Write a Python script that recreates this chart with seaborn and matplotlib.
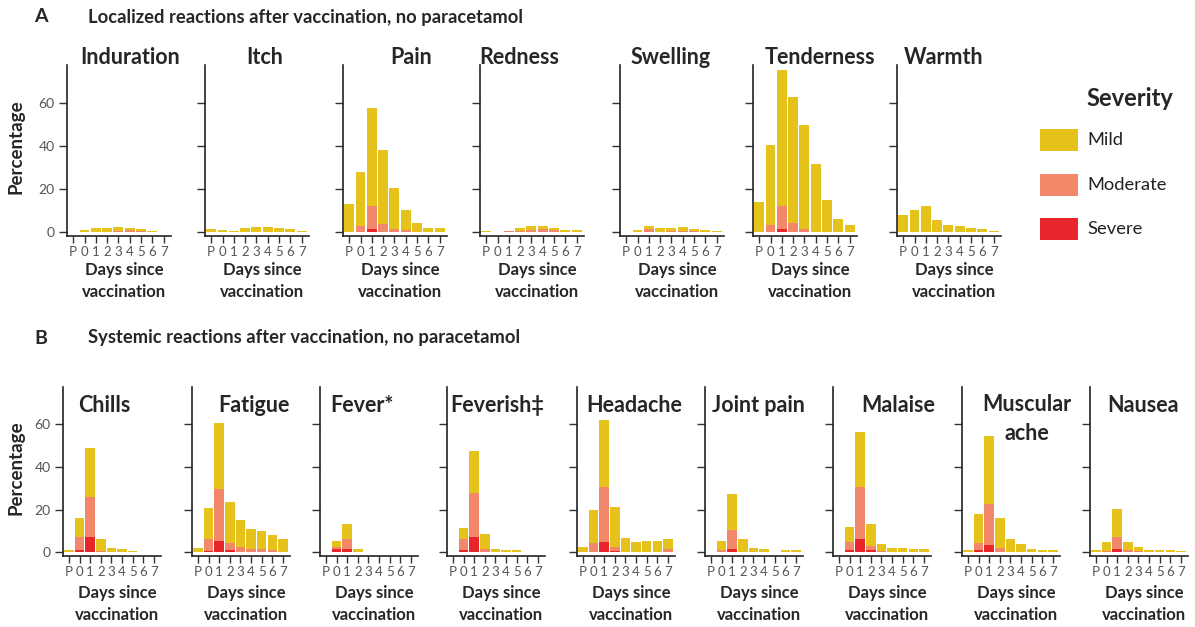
import matplotlib
matplotlib.use("Agg")
import matplotlib.pyplot as plt
from matplotlib.patches import Rectangle
import seaborn as sns

sns.set_style("ticks")
plt.rcParams["font.family"] = ["Lato", "DejaVu Sans"]

# ---------------- data ----------------
DAYS = ["P", "0", "1", "2", "3", "4", "5", "6", "7"]
SEVERITY = ["Mild", "Moderate", "Severe"]

# Each symptom: (any severity total, moderate-or-severe, severe) percentages per day
LOCAL_NAMES = ["Induration", "Itch", "Pain", "Redness", "Swelling", "Tenderness", "Warmth"]
INDURATION = ([0.2, 1.3, 1.8, 1.8, 2.4, 2.0, 1.5, 0.8, 0.2],
              [0, 0, 0.2, 0.2, 0.4, 0.9, 0.4, 0.1, 0],
              [0, 0, 0, 0, 0, 0, 0, 0, 0])
ITCH = ([1.7, 1.3, 0.6, 2.0, 2.5, 2.4, 2.0, 1.4, 0.8],
        [0, 0, 0, 0, 0.2, 0.2, 0.1, 0, 0],
        [0, 0, 0, 0, 0, 0, 0, 0, 0])
PAIN = ([12.9, 27.8, 57.5, 38.3, 20.6, 10.4, 4.5, 2.2, 2.2],
        [0.3, 2.9, 12.4, 4.0, 1.5, 1.0, 0.2, 0, 0],
        [0, 0.3, 1.5, 0.3, 0, 0, 0, 0, 0])
REDNESS = ([0.4, 0.1, 0.8, 2.0, 3.1, 3.1, 2.0, 1.2, 0.9],
           [0, 0, 0.8, 0.4, 1.0, 1.5, 1.0, 0.3, 0.2],
           [0, 0, 0, 0, 0, 0, 0, 0, 0])
SWELLING = ([0.1, 0.9, 2.9, 2.0, 2.0, 2.3, 1.7, 1.1, 0.6],
            [0, 0.2, 1.5, 0.3, 0.5, 0.7, 0.5, 0.1, 0],
            [0, 0, 0, 0, 0, 0, 0, 0, 0])
TENDERNESS = ([14.0, 40.5, 75.0, 62.8, 49.6, 31.6, 15.2, 6.2, 3.3],
              [0.2, 3.3, 12.0, 4.2, 1.5, 0.3, 0, 0, 0],
              [0, 0, 1.5, 0, 0, 0, 0, 0, 0])
WARMTH = ([8.2, 10.2, 12.2, 5.9, 3.6, 3.1, 2.0, 1.4, 0.8],
          [0, 0.1, 0.2, 0.1, 0, 0, 0, 0, 0],
          [0, 0, 0, 0, 0, 0, 0, 0, 0])

SYSTEMIC_NAMES = ["Chills", "Fatigue", "Fever*", "Feverish\u2021", "Headache",
                  "Joint pain", "Malaise", "Muscular\nache", "Nausea"]
CHILLS = ([0.9, 16.3, 48.7, 6.1, 2.0, 1.4, 0.6, 0.3, 0.3],
          [0, 7.3, 25.8, 0.5, 0.2, 0, 0, 0, 0],
          [0, 1.2, 7.0, 0, 0, 0, 0, 0, 0])
FATIGUE = ([1.9, 21.0, 60.6, 23.5, 15.2, 10.9, 10.0, 8.1, 6.1],
           [0, 6.1, 29.9, 4.2, 2.5, 1.4, 1.7, 0.9, 0.3],
           [0, 0.5, 5.4, 0.9, 0, 0, 0, 0, 0])
FEVER = ([0, 5.3, 13.2, 1.4, 0.3, 0.1, 0.1, 0.1, 0.1],
         [0, 2.3, 6.1, 0.2, 0, 0, 0, 0, 0],
         [0, 1.4, 1.4, 0, 0, 0, 0, 0, 0])
FEVERISH = ([0.3, 11.5, 47.4, 8.4, 1.6, 0.9, 0.9, 0.3, 0.1],
            [0, 6.1, 27.7, 1.6, 0.2, 0, 0, 0, 0],
            [0, 0.9, 7.0, 0, 0, 0, 0, 0, 0])
HEADACHE = ([2.3, 19.9, 62.2, 21.1, 6.8, 4.8, 5.3, 5.3, 6.1],
            [0, 4.4, 30.6, 2.3, 0.3, 0.2, 0.3, 0.3, 1.4],
            [0, 0.3, 5.0, 0.5, 0, 0, 0, 0, 0])
JOINT_PAIN = ([0.3, 5.4, 27.5, 6.5, 1.9, 1.6, 0.3, 1.2, 0.9],
              [0, 1.1, 10.3, 0.2, 0, 0, 0, 0, 0],
              [0, 0, 1.4, 0, 0, 0, 0, 0, 0])
MALAISE = ([0.3, 12.0, 56.4, 13.1, 4.0, 2.0, 1.9, 1.6, 1.4],
           [0, 5.0, 30.5, 3.0, 0.5, 0, 0, 0, 0],
           [0, 1.1, 6.2, 1.1, 0, 0, 0, 0, 0])
MUSCULAR_ACHE = ([1.2, 18.0, 54.7, 16.0, 6.5, 3.7, 1.4, 1.2, 0.9],
                 [0, 4.2, 22.5, 2.2, 0.3, 0, 0, 0, 0],
                 [0, 0.9, 3.3, 0, 0, 0, 0, 0, 0])
NAUSEA = ([0.9, 4.8, 20.5, 4.8, 2.6, 1.2, 1.2, 0.9, 0.8],
          [0, 0.5, 7.0, 1.1, 0.5, 0, 0, 0, 0],
          [0, 0, 1.6, 0, 0, 0, 0, 0, 0])

LOCAL_DATA = [INDURATION, ITCH, PAIN, REDNESS, SWELLING, TENDERNESS, WARMTH]
SYSTEMIC_DATA = [CHILLS, FATIGUE, FEVER, FEVERISH, HEADACHE, JOINT_PAIN,
                 MALAISE, MUSCULAR_ACHE, NAUSEA]
Y_TICKS = [0, 20, 40, 60]

COLORS = {"Mild": "#E5C31C", "Moderate": "#F3876A", "Severe": "#E8252B"}

# ---------------- layout (pixels) ----------------
W, H = 1195, 627
fig = plt.figure(figsize=(W / 100, H / 100), dpi=100)


def add_ax(left, top, width, bottom):
    return fig.add_axes([left / W, 1 - bottom / H, width / W, (bottom - top) / H])


def ftext(x, y, s, **kw):
    fig.text(x / W, 1 - y / H, s, **kw)


GRAY = "#555555"


def draw_panel(ax, data, first):
    total, mod, sev = data
    for vals, sevname in zip((total, mod, sev), SEVERITY):
        sns.barplot(x=DAYS, y=vals, order=DAYS, color=COLORS[sevname], saturation=1,
                    width=0.88, linewidth=0, ax=ax)
    for p in ax.patches:
        if p.get_height() == 0:
            p.set_visible(False)
    ax.set_xlim(-0.55, 8.65)
    ax.set_ylim(-1.7, 77.5)
    ax.set_yticks(Y_TICKS)
    ax.set_xlabel("")
    ax.set_ylabel("")
    sns.despine(ax=ax)
    for side in ("left", "bottom"):
        ax.spines[side].set_linewidth(1.2)
        ax.spines[side].set_color("#222222")
    ax.tick_params(axis="x", length=5, width=1.0, color="#333333", pad=2,
                   labelsize=9.5, labelcolor=GRAY)
    ax.tick_params(axis="y", length=6, width=1.0, color="#333333", pad=3,
                   labelsize=10, labelcolor=GRAY, labelleft=first)
    ax.set_facecolor("none")


TITLE_FS = 15.5
XLAB_FS = 12

# Row A
A_LEFT = [67, 205, 343, 480, 620, 753, 897]
A_TITLE_X = [130, 265, 411, 519, 671, 820, 944]
for i, (name, data) in enumerate(zip(LOCAL_NAMES, LOCAL_DATA)):
    ax = add_ax(A_LEFT[i], 65, 104, 236)
    draw_panel(ax, data, i == 0)
    ftext(A_TITLE_X[i], 58, name, ha="center", va="center", fontsize=TITLE_FS,
          fontweight="bold")
    ftext(A_LEFT[i] + 57, 281, "Days since\nvaccination", ha="center", va="center",
          fontsize=XLAB_FS, fontweight="bold", linespacing=1.4)

# Row B
B_LEFT = [63, 192, 320, 447, 577, 705, 833, 962, 1090]
B_TITLE_X = [104, 254, 362, 497, 634, 758, 898, 1027, 1143]
for i, (name, data) in enumerate(zip(SYSTEMIC_NAMES, SYSTEMIC_DATA)):
    ax = add_ax(B_LEFT[i], 387, 98, 556)
    draw_panel(ax, data, i == 0)
    if "\n" in name:
        ftext(B_TITLE_X[i], 394, name, ha="center", va="top", fontsize=TITLE_FS,
              fontweight="bold", linespacing=1.45)
    else:
        ftext(B_TITLE_X[i], 405, name, ha="center", va="center", fontsize=TITLE_FS,
              fontweight="bold")
    ftext(B_LEFT[i] + 54, 604, "Days since\nvaccination", ha="center", va="center",
          fontsize=XLAB_FS, fontweight="bold", linespacing=1.5)

# Row headings
ftext(34, 17, "A", ha="left", va="center", fontsize=14, fontweight="bold")
ftext(88, 17, "Localized reactions after vaccination, no paracetamol", ha="left",
      va="center", fontsize=13.2, fontweight="bold")
ftext(34, 338, "B", ha="left", va="center", fontsize=14, fontweight="bold")
ftext(88, 338, "Systemic reactions after vaccination, no paracetamol", ha="left",
      va="center", fontsize=13.2, fontweight="bold")

ftext(16, 147, "Percentage", rotation=90, ha="center", va="center", fontsize=13.5,
      fontweight="bold")
ftext(16, 468, "Percentage", rotation=90, ha="center", va="center", fontsize=13.5,
      fontweight="bold")

# Legend
ftext(1130, 98, "Severity", ha="center", va="center", fontsize=17, fontweight="bold")
for sevname, yc in zip(SEVERITY, [140, 185, 229]):
    fig.patches.append(Rectangle((1040 / W, 1 - (yc + 11) / H), 38 / W, 22 / H,
                                 transform=fig.transFigure, facecolor=COLORS[sevname],
                                 edgecolor="none"))
    ftext(1087, yc, sevname, ha="left", va="center", fontsize=13.2, color="#222222")

fig.savefig("out.png", dpi=100)
